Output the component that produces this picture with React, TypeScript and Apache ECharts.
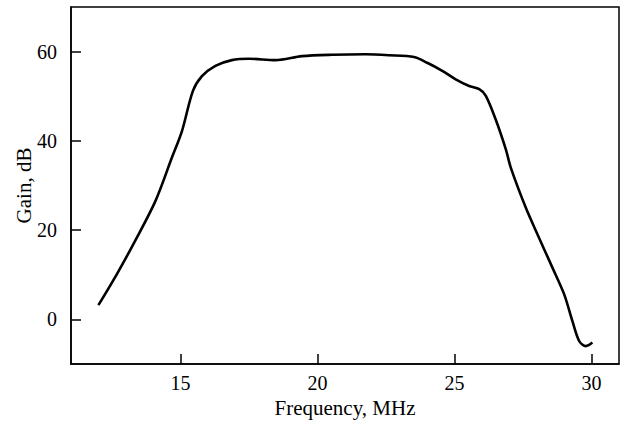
import React, { useEffect, useRef } from "react";
import * as echarts from "echarts";

const freq = [12.0, 12.67, 13.34, 14.08, 14.68, 15.05, 15.45, 15.78, 16.27, 16.87, 17.49, 18.46, 19.43, 20.53, 21.75, 22.6, 23.52, 24.0, 24.55, 25.04, 25.53, 25.9, 26.14, 26.5, 26.87, 27.05, 27.6, 28.08, 28.57, 29.0, 29.3, 29.55, 29.79, 30.03];
const gain = [3.2, 10.1, 17.6, 26.5, 36.2, 42.2, 51.2, 54.5, 56.8, 58.1, 58.4, 58.1, 59.0, 59.3, 59.4, 59.2, 58.8, 57.5, 55.7, 53.8, 52.3, 51.6, 50.1, 44.8, 38.1, 34.0, 25.0, 18.3, 11.6, 5.6, -0.4, -4.9, -6.0, -5.2];
const xTicks = [15, 20, 25, 30];
const yTicks = [0, 20, 40, 60];

export default function App() {
  const ref = useRef<HTMLDivElement>(null);
  useEffect(() => {
    if (!ref.current) return;
    const chart = echarts.init(ref.current, null, { renderer: "svg" });
    const font = "'Liberation Serif', 'DejaVu Serif', serif";
    chart.setOption({
      animation: false,
      backgroundColor: "#fff",
      grid: { left: 71, top: 7, right: 2, bottom: 60, show: true, borderColor: "#000", borderWidth: 1.5, containLabel: false },
      xAxis: {
        type: "value",
        min: 11,
        max: 31,
        name: "Frequency, MHz",
        nameLocation: "middle",
        nameGap: 33,
        nameTextStyle: { fontFamily: font, fontSize: 21, color: "#000" },
        axisLine: { show: true, onZero: false, lineStyle: { color: "#000", width: 1.5 } },
        axisTick: { show: true, inside: true, length: 10, customValues: xTicks, lineStyle: { color: "#000", width: 1.5 } },
        axisLabel: { customValues: xTicks, margin: 9, fontFamily: font, fontSize: 20, color: "#000" },
        splitLine: { show: false },
      },
      yAxis: {
        type: "value",
        min: -10,
        max: 70,
        name: "Gain, dB",
        nameLocation: "middle",
        nameGap: 37,
        nameMoveOverlap: false,
        nameRotate: 90,
        nameTextStyle: { fontFamily: font, fontSize: 21, color: "#000" },
        axisLine: { show: true, onZero: false, lineStyle: { color: "#000", width: 1.5 } },
        axisTick: { show: true, inside: true, length: 10, customValues: yTicks, lineStyle: { color: "#000", width: 1.5 } },
        axisLabel: { customValues: yTicks, margin: 14, fontFamily: font, fontSize: 20, color: "#000" },
        splitLine: { show: false },
      },
      series: [
        {
          type: "line",
          data: freq.map((f, i) => [f, gain[i]]),
          smooth: 0.3,
          showSymbol: false,
          lineStyle: { color: "#000", width: 2.6 },
        },
      ],
    });
    return () => chart.dispose();
  }, []);
  return <div ref={ref} style={{ width: 621, height: 424, position: "absolute", left: 0, top: 0 }} />;
}
